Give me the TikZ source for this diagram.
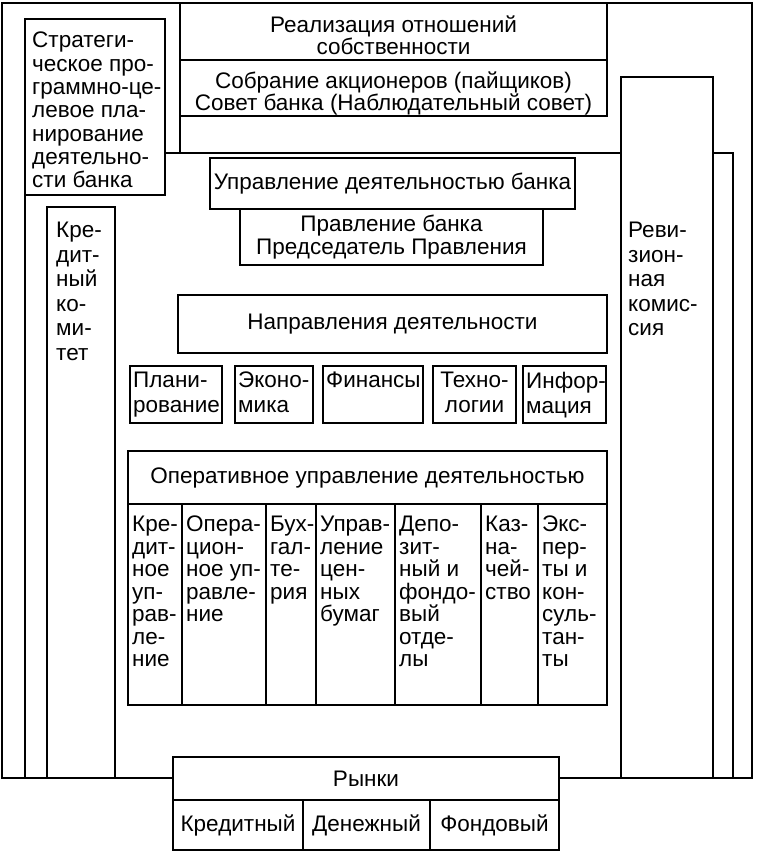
\documentclass[tikz,border=0pt]{standalone}
\usepackage{fontspec}
\setmainfont{Liberation Sans}
\usetikzlibrary{fit}
\newcommand\dfont{\fontsize{22.5}{23.3}\selectfont}
\begin{document}
\begin{tikzpicture}[x=1pt,y=-1pt,
  frame/.style={line width=1.6pt},
  box/.style={draw, fill=white, inner sep=0pt, line width=1.6pt},
  txt/.style={inner sep=0pt, align=left, anchor=north west, font=\dfont},
  ctxt/.style={inner sep=0pt, align=center, font=\dfont},
  tight/.style={font=\fontsize{22.5}{20.5}\selectfont},
  wide/.style={font=\fontsize{22.5}{24.5}\selectfont},
  cols/.style={font=\fontsize{22.5}{22.5}\selectfont},
  small/.style={font=\fontsize{22.5}{25}\selectfont}]
\useasboundingbox (0,0) rectangle (756,851);
% frame lines
\draw[frame] (2,3) rectangle (752,778);
\draw[frame] (25,195) -- (25,778);
\draw[frame] (180,3) -- (180,153);
\draw[frame] (165,153) -- (733,153) -- (733,778);
% top
\node[box, fit={(180,3) (607,60)}] (real) {};
\node[ctxt, tight, yshift=-4pt] (realT) at (real.center) {Реализация отношений\\собственности};
\node[box, fit={(180,60) (607,116)}] (sobr) {};
\node[ctxt, tight, yshift=-5.5pt] (sobrT) at (sobr.center) {Собрание акционеров (пайщиков)\\Совет банка (Наблюдательный совет)};
% strategic
\node[box, fit={(25,19) (165,195)}] (strat) {};
\node[txt] (stratT) at (32,32) {Стратеги-\\ческое про-\\граммно-це-\\левое пла-\\нирование\\деятельно-\\сти банка};
% credit committee
\node[box, fit={(47,207) (115,778)}] (kred) {};
\node[txt, wide] (kredT) at (56,222) {Кре-\\дит-\\ный\\ко-\\ми-\\тет};
% revision
\node[box, fit={(621,77) (713,778)}] (rev) {};
\node[txt, wide] (revT) at (628,222) {Реви-\\зион-\\ная\\комис-\\сия};
% management
\node[box, fit={(210,158) (575,209)}] (upr) {};
\node[ctxt] (uprT) at (upr.center) {Управление деятельностью банка};
\node[box, fit={(240,209) (543,265)}] (pravl) {};
\node[ctxt] (pravlT) at (pravl.center) {Правление банка\\Председатель Правления};
\node[box, fit={(178,295) (607,353)}] (napr) {};
\node[ctxt] (naprT) at (napr.center) {Направления деятельности};
% directions
\node[box, fit={(130,366) (222,423)}] (plan) {};
\node[txt, small] (planT) at (133,372) {Плани-\\рование};
\node[box, fit={(235,366) (313,423)}] (econ) {};
\node[txt, small] (econT) at (238,372) {Эконо-\\мика};
\node[box, fit={(323,366) (423,423)}] (fin) {};
\node[txt, small] (finT) at (326,372) {Финансы};
\node[box, fit={(433,366) (516,423)}] (tech) {};
\node[ctxt, small, anchor=north] (techT) at (474.5,372) {Техно-\\логии};
\node[box, fit={(523,366) (606,423)}] (inf) {};
\node[txt, small] (infT) at (526,372) {Инфор-\\мация};
% operative
\node[box, fit={(128,451) (607,504)}] (oper) {};
\node[ctxt] (operT) at (oper.center) {Оперативное управление деятельностью};
\node[box, fit={(128,504) (182,705)}] (c1) {};
\node[box, fit={(182,504) (266,705)}] (c2) {};
\node[box, fit={(266,504) (316,705)}] (c3) {};
\node[box, fit={(316,504) (395,705)}] (c4) {};
\node[box, fit={(395,504) (481,705)}] (c5) {};
\node[box, fit={(481,504) (538,705)}] (c6) {};
\node[box, fit={(538,504) (607,705)}] (c7) {};
\node[txt, cols] (c1T) at (132,516) {Кре-\\дит-\\ное\\уп-\\рав-\\ле-\\ние};
\node[txt, cols] (c2T) at (186,516) {Опера-\\цион-\\ное уп-\\равле-\\ние};
\node[txt, cols] (c3T) at (270,516) {Бух-\\гал-\\те-\\рия};
\node[txt, cols] (c4T) at (320,516) {Управ-\\ление\\цен-\\ных\\бумаг};
\node[txt, cols] (c5T) at (399,516) {Депо-\\зит-\\ный и\\фондо-\\вый\\отде-\\лы};
\node[txt, cols] (c6T) at (485,516) {Каз-\\на-\\чей-\\ство};
\node[txt, cols] (c7T) at (542,516) {Экс-\\пер-\\ты и\\кон-\\суль-\\тан-\\ты};
% markets
\node[box, fit={(173,757) (559,800)}] (mark) {};
\node[ctxt] (markT) at (mark.center) {Рынки};
\node[box, fit={(173,800) (303,850)}] (m1) {};
\node[ctxt] (m1T) at (m1.center) {Кредитный};
\node[box, fit={(303,800) (430,850)}] (m2) {};
\node[ctxt] (m2T) at (m2.center) {Денежный};
\node[box, fit={(430,800) (559,850)}] (m3) {};
\node[ctxt] (m3T) at (m3.center) {Фондовый};
\end{tikzpicture}
\end{document}
